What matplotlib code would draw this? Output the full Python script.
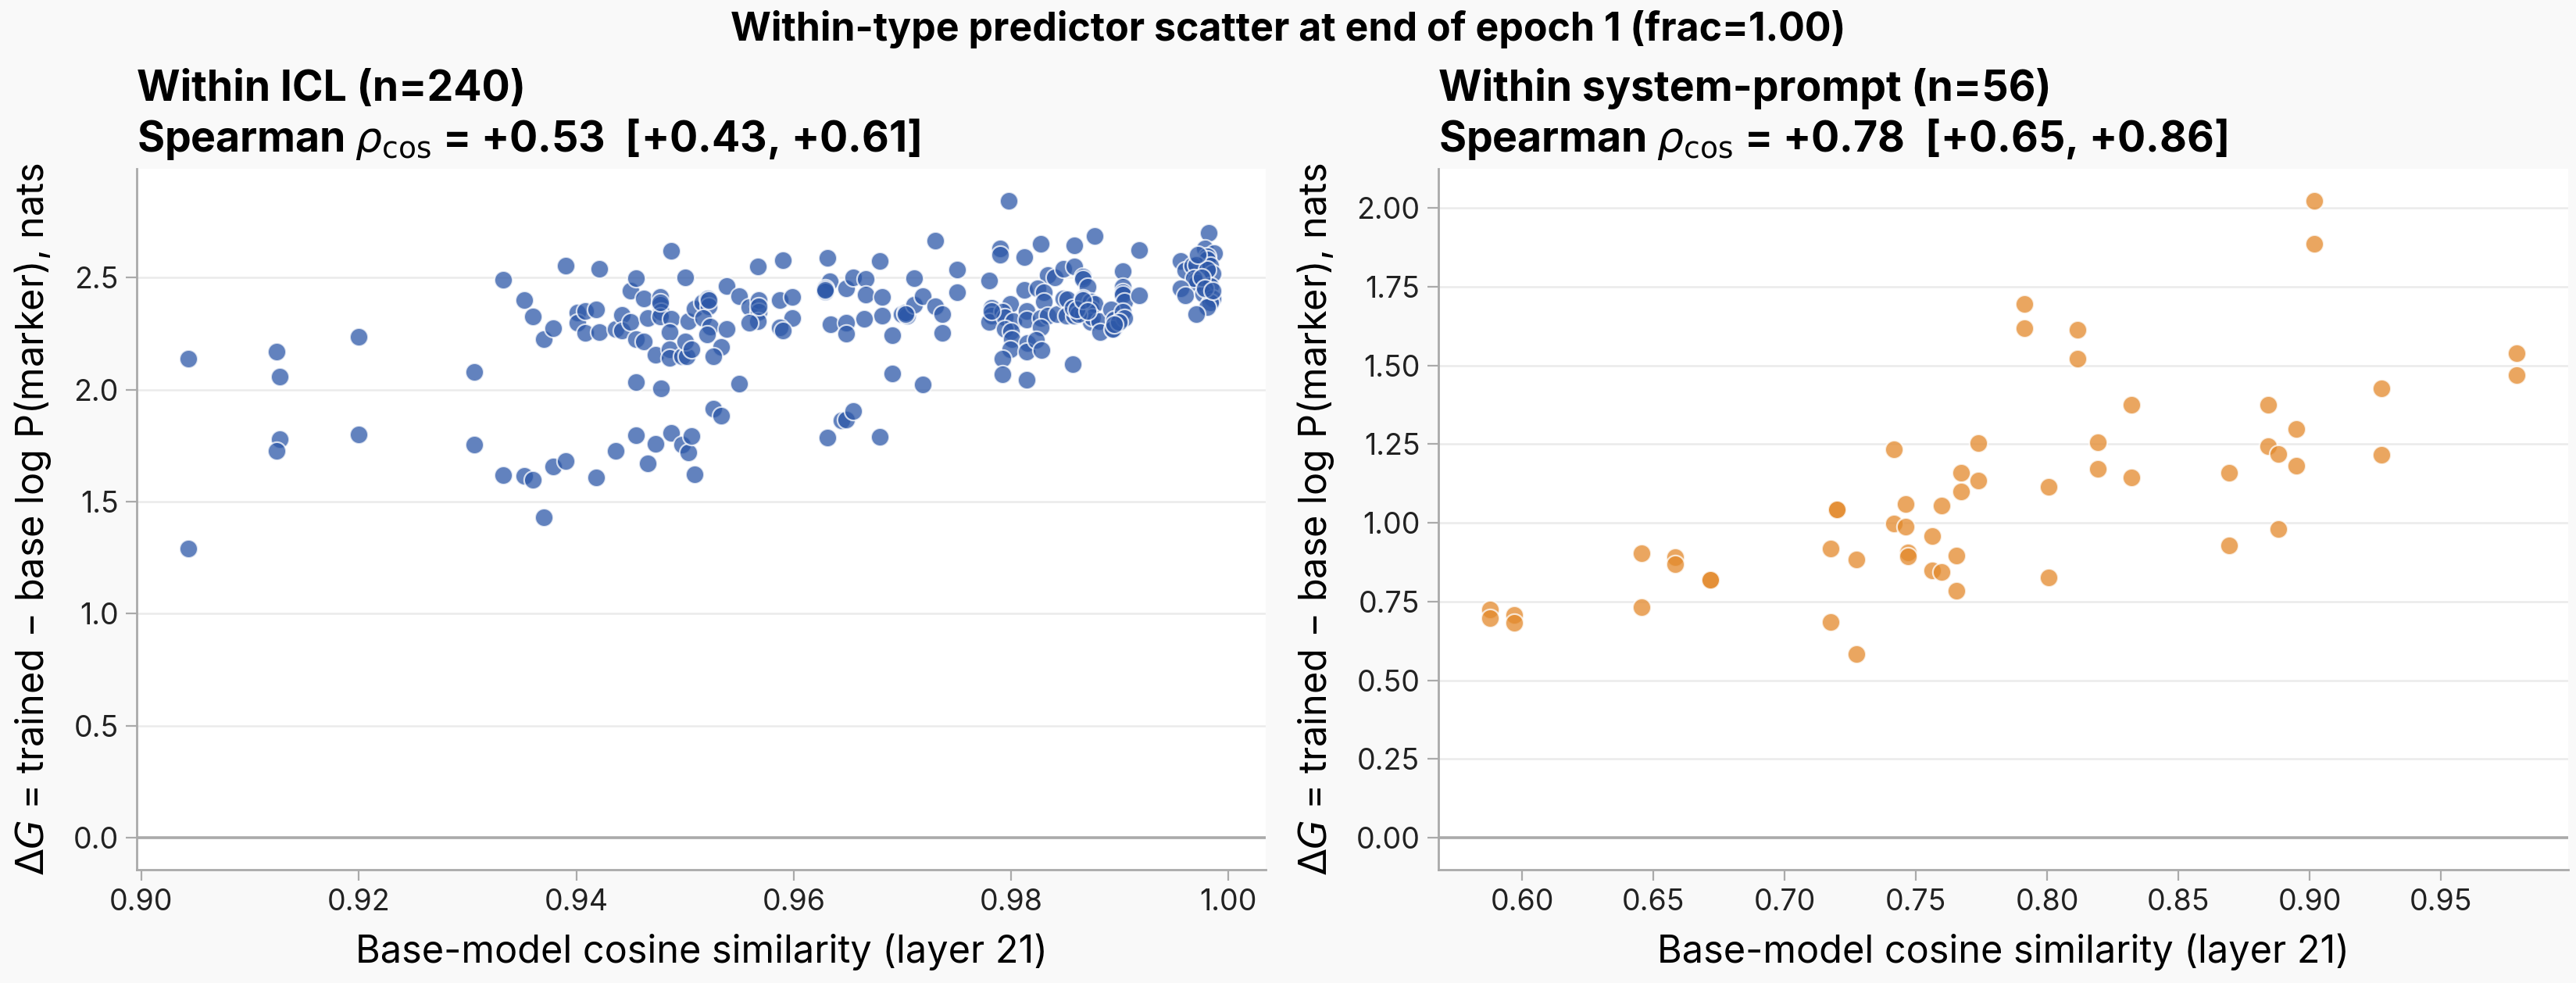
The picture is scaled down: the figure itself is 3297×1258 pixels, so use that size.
import matplotlib
matplotlib.use("Agg")
import matplotlib.pyplot as plt
import numpy as np

plt.rcParams['font.family'] = ['Inter', 'DejaVu Sans']
plt.rcParams['mathtext.fontset'] = 'dejavusans'

# ICL pairs: base-model cosine similarity vs delta G
icl_cos = [
    0.9043, 0.9043, 0.9124, 0.9127, 0.9127, 0.9124, 0.9200, 0.9200, 0.9306, 0.9306,
    0.9333, 0.9333, 0.9352, 0.9352, 0.9360, 0.9360, 0.9370, 0.9370, 0.9379, 0.9379,
    0.9390, 0.9390, 0.9401, 0.9401, 0.9408, 0.9408, 0.9418, 0.9421, 0.9421, 0.9418,
    0.9436, 0.9436, 0.9442, 0.9442, 0.9450, 0.9450, 0.9455, 0.9455, 0.9462, 0.9462,
    0.9455, 0.9455, 0.9466, 0.9473, 0.9473, 0.9466, 0.9478, 0.9477, 0.9477, 0.9478,
    0.9477, 0.9487, 0.9487, 0.9486, 0.9486, 0.9486, 0.9497, 0.9502, 0.9500, 0.9506,
    0.9500, 0.9503, 0.9509, 0.9516, 0.9521, 0.9522, 0.9517, 0.9523, 0.9520, 0.9533,
    0.9526, 0.9538, 0.9538, 0.9550, 0.9559, 0.9567, 0.9568, 0.9568, 0.9567, 0.9559,
    0.9590, 0.9587, 0.9599, 0.9599, 0.9587, 0.9590, 0.9631, 0.9633, 0.9629, 0.9629,
    0.9634, 0.9550, 0.9526, 0.9533, 0.9487, 0.9497, 0.9503, 0.9506, 0.9509, 0.9631,
    0.9644, 0.9648, 0.9655, 0.9666, 0.9666, 0.9679, 0.9681, 0.9681, 0.9665, 0.9648,
    0.9648, 0.9691, 0.9699, 0.9704, 0.9703, 0.9711, 0.9711, 0.9719, 0.9730, 0.9730,
    0.9737, 0.9737, 0.9750, 0.9750, 0.9691, 0.9719, 0.9648, 0.9655, 0.9679, 0.9798,
    0.9790, 0.9790, 0.9812, 0.9780, 0.9812, 0.9799, 0.9782, 0.9782, 0.9780, 0.9792,
    0.9794, 0.9802, 0.9794, 0.9800, 0.9801, 0.9799, 0.9792, 0.9792, 0.9814, 0.9814,
    0.9814, 0.9815, 0.9814, 0.9827, 0.9858, 0.9877, 0.9918, 0.9834, 0.9840, 0.9848,
    0.9858, 0.9866, 0.9866, 0.9870, 0.9903, 0.9903, 0.9903, 0.9903, 0.9904, 0.9918,
    0.9824, 0.9830, 0.9830, 0.9827, 0.9834, 0.9842, 0.9827, 0.9823, 0.9828, 0.9848,
    0.9852, 0.9851, 0.9858, 0.9857, 0.9866, 0.9866, 0.9873, 0.9873, 0.9873, 0.9877,
    0.9875, 0.9862, 0.9860, 0.9881, 0.9882, 0.9892, 0.9895, 0.9894, 0.9893, 0.9903,
    0.9904, 0.9899, 0.9857, 0.9982, 0.9978, 0.9987, 0.9980, 0.9980, 0.9956, 0.9960,
    0.9967, 0.9970, 0.9983, 0.9985, 0.9980, 0.9970, 0.9971, 0.9968, 0.9956, 0.9960,
    0.9983, 0.9977, 0.9985, 0.9983, 0.9980, 0.9970, 0.9477, 0.9522, 0.9568, 0.9703,
    0.9782, 0.9866, 0.9870, 0.9895, 0.9975, 0.9978, 0.9972, 0.9985, 0.9629,
]
icl_dg = [
    2.137, 1.291, 2.169, 2.056, 1.778, 1.728, 2.236, 1.799, 2.078, 1.753,
    2.490, 1.617, 2.401, 1.614, 2.326, 1.599, 2.226, 1.431, 2.274, 1.656,
    2.554, 1.680, 2.342, 2.298, 2.349, 2.254, 2.359, 2.540, 2.257, 1.607,
    2.271, 1.725, 2.332, 2.264, 2.440, 2.301, 2.498, 2.226, 2.407, 2.215,
    2.033, 1.795, 2.320, 2.156, 1.758, 1.672, 2.005, 2.415, 2.377, 2.348,
    2.325, 2.620, 2.315, 2.255, 2.179, 2.142, 2.150, 2.148, 2.214, 2.179,
    2.499, 2.304, 2.360, 2.389, 2.406, 2.371, 2.319, 2.281, 2.246, 2.190,
    2.148, 2.462, 2.272, 2.418, 2.369, 2.550, 2.400, 2.348, 2.307, 2.299,
    2.578, 2.400, 2.414, 2.319, 2.278, 2.263, 2.586, 2.482, 2.453, 2.438,
    2.292, 2.025, 1.914, 1.885, 1.806, 1.753, 1.721, 1.791, 1.622, 1.785,
    1.864, 2.453, 2.502, 2.494, 2.424, 2.572, 2.414, 2.328, 2.316, 2.299,
    2.249, 2.243, 2.336, 2.330, 2.342, 2.497, 2.377, 2.418, 2.663, 2.373,
    2.336, 2.252, 2.537, 2.435, 2.071, 2.022, 1.866, 1.903, 1.788, 2.843,
    2.628, 2.602, 2.590, 2.488, 2.445, 2.383, 2.365, 2.330, 2.301, 2.348,
    2.324, 2.307, 2.272, 2.260, 2.226, 2.179, 2.138, 2.068, 2.045, 2.350,
    2.313, 2.208, 2.171, 2.649, 2.645, 2.686, 2.624, 2.511, 2.499, 2.540,
    2.548, 2.505, 2.494, 2.459, 2.528, 2.459, 2.435, 2.424, 2.394, 2.420,
    2.450, 2.435, 2.394, 2.319, 2.330, 2.338, 2.278, 2.222, 2.176, 2.406,
    2.404, 2.330, 2.330, 2.365, 2.406, 2.336, 2.394, 2.359, 2.301, 2.383,
    2.324, 2.336, 2.359, 2.304, 2.257, 2.359, 2.313, 2.272, 2.269, 2.348,
    2.319, 2.301, 2.113, 2.700, 2.628, 2.610, 2.595, 2.581, 2.575, 2.532,
    2.552, 2.558, 2.552, 2.517, 2.534, 2.488, 2.476, 2.497, 2.450, 2.420,
    2.462, 2.429, 2.408, 2.389, 2.369, 2.336, 2.390, 2.400, 2.370, 2.335,
    2.350, 2.400, 2.350, 2.290, 2.500, 2.450, 2.600, 2.440, 2.445,
]

# system-prompt pairs
sys_cos = [
    0.5876, 0.5876, 0.5969, 0.5969, 0.6455, 0.6455, 0.6583, 0.6583, 0.6717, 0.6717,
    0.7199, 0.7199, 0.7176, 0.7176, 0.7273, 0.7273, 0.7416, 0.7416,
    0.7462, 0.7462, 0.7471, 0.7471, 0.7562, 0.7562, 0.7599, 0.7599, 0.7655, 0.7655,
    0.7673, 0.7673, 0.7739, 0.7739, 0.7914, 0.7914, 0.8117, 0.8117, 0.8007, 0.8007,
    0.8194, 0.8194, 0.8320, 0.8320, 0.8693, 0.8693, 0.8841, 0.8841, 0.8880, 0.8880,
    0.8949, 0.8949, 0.9018, 0.9018, 0.9274, 0.9274, 0.9790, 0.9790,
]
sys_dg = [
    0.725, 0.697, 0.707, 0.683, 0.904, 0.733, 0.890, 0.868, 0.820, 0.820,
    1.042, 1.042, 0.918, 0.684, 0.884, 0.583, 1.234, 0.997,
    1.059, 0.988, 0.907, 0.893, 0.958, 0.848, 1.055, 0.845, 0.897, 0.784,
    1.159, 1.100, 1.254, 1.135, 1.695, 1.619, 1.612, 1.522, 1.115, 0.827,
    1.255, 1.172, 1.374, 1.145, 1.159, 0.928, 1.374, 1.244, 1.218, 0.981,
    1.297, 1.182, 2.023, 1.886, 1.428, 1.217, 1.538, 1.468,
]

panels = [
    ("Within ICL (n=240)", "+0.53", "[+0.43, +0.61]", icl_cos, icl_dg, "#2d58a8"),
    ("Within system-prompt (n=56)", "+0.78", "[+0.65, +0.86]", sys_cos, sys_dg, "#e3892b"),
]

fig = plt.figure(figsize=(16.49, 6.29), dpi=200, facecolor="#f9f9f9")
axes = [fig.add_axes([0.0531, 0.1153, 0.4381, 0.713]),
        fig.add_axes([0.5582, 0.1153, 0.4385, 0.713])]

fmt = matplotlib.ticker.FormatStrFormatter
for ax, (name, rho, ci, xs, ys, col) in zip(axes, panels):
    ax.set_facecolor("white")
    ax.scatter(xs, ys, s=70, color=col, alpha=0.75, edgecolor="white", linewidth=0.8, zorder=3)
    ax.axhline(0, color="#aaaaaa", lw=1.3, zorder=2)
    ax.grid(axis="y", color="#ebebeb", lw=0.9, zorder=0)
    ax.set_axisbelow(True)
    for s in ["top", "right"]:
        ax.spines[s].set_visible(False)
    for s in ["left", "bottom"]:
        ax.spines[s].set_color("#aaaaaa")
        ax.spines[s].set_linewidth(1.0)
    ax.tick_params(colors="#aaaaaa", labelcolor="#222222", labelsize=13.5, length=5)
    ax.set_title(name + "\n" + r"Spearman $\rho_{\mathrm{cos}}$ = " + rho + "  " + ci,
                 loc="left", fontsize=19.3, fontweight="bold", pad=8, linespacing=1.2)
    ax.set_xlabel("Base-model cosine similarity (layer 21)", fontsize=17.5, labelpad=8)
    ax.set_ylabel(r"$\Delta G$ = trained − base log P(marker), nats", fontsize=17.5, labelpad=9)

axes[0].set_xticks(np.arange(0.90, 1.001, 0.02))
axes[0].set_yticks(np.arange(0, 2.51, 0.5))
axes[0].xaxis.set_major_formatter(fmt("%.2f"))
axes[0].yaxis.set_major_formatter(fmt("%.1f"))
axes[1].set_xticks(np.arange(0.60, 0.951, 0.05))
axes[1].set_yticks(np.arange(0, 2.01, 0.25))
axes[1].xaxis.set_major_formatter(fmt("%.2f"))
axes[1].yaxis.set_major_formatter(fmt("%.2f"))

fig.suptitle("Within-type predictor scatter at end of epoch 1 (frac=1.00)",
             fontsize=18, fontweight="bold", y=0.99)

fig.savefig("out.png", dpi=200, facecolor=fig.get_facecolor())
